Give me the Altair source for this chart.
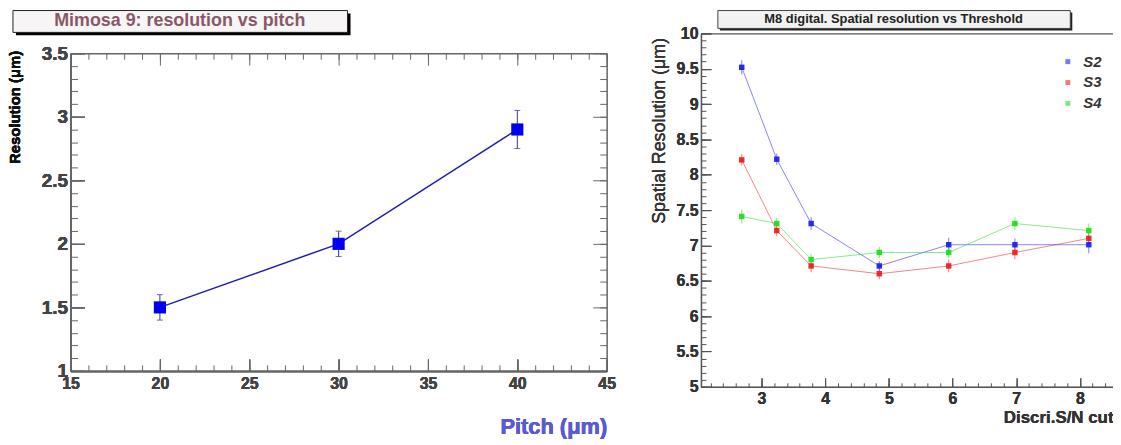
import altair as alt
import pandas as pd

# ---------------- data ----------------
left_title = ["Mimosa 9: resolution vs pitch"]
pitch = [20, 30, 40]
resolution = [1.5, 2.0, 2.9]
res_err = [0.1, 0.1, 0.15]

right_title = ["M8 digital. Spatial resolution vs Threshold"]
sn_cut = [2.69, 3.24, 3.78, 4.85, 5.94, 6.98, 8.14]
series_names = ["S2", "S3", "S4"]
s2 = [9.52, 8.22, 7.31, 6.71, 7.01, 7.01, 7.01]
s3 = [8.21, 7.21, 6.71, 6.60, 6.71, 6.90, 7.10]
s4 = [7.41, 7.31, 6.80, 6.90, 6.90, 7.31, 7.21]
s2_err = [0.10, 0.08, 0.09, 0.07, 0.10, 0.09, 0.12]
s3_err = [0.08, 0.08, 0.09, 0.08, 0.09, 0.10, 0.08]
s4_err = [0.10, 0.08, 0.08, 0.08, 0.08, 0.09, 0.10]
series_colors = ["#2020ee", "#ee2020", "#20dd20"]

# tick values
lx_major = [15, 20, 25, 30, 35, 40, 45]
lx_minor = list(range(15, 46))
ly_major = [1, 1.5, 2, 2.5, 3, 3.5]
ly_minor = [round(1 + 0.1 * i, 1) for i in range(26)]
rx_major = [3, 4, 5, 6, 7, 8]
rx_minor = [round(2.2 + 0.2 * i, 1) for i in range(32)]
ry_major = [5, 5.5, 6, 6.5, 7, 7.5, 8, 8.5, 9, 9.5, 10]
ry_minor = [round(5 + 0.1 * i, 1) for i in range(51)]

FONT = "Liberation Sans"

left_df = pd.DataFrame({
    "pitch": pitch,
    "res": resolution,
    "lo": [r - e for r, e in zip(resolution, res_err)],
    "hi": [r + e for r, e in zip(resolution, res_err)],
})

rows = []
for name, vals, errs in zip(series_names, [s2, s3, s4], [s2_err, s3_err, s4_err]):
    for x, v, e in zip(sn_cut, vals, errs):
        rows.append({"cut": x, "val": v, "lo": v - e, "hi": v + e, "series": name})
right_df = pd.DataFrame(rows)


def tick_axis(orient, values, size, color, **kw):
    d = dict(orient=orient, values=values, tickSize={"expr": str(-size)},
             labels=False, domain=False, title=None, grid=False, ticks=True,
             tickColor=color, tickWidth=1)
    d.update(kw)
    return alt.Axis(**d)


# ---------------- left chart ----------------
# the left panel's group starts 20px above its frame so both panels share one row
LW, LH, LTOP = 540, 340, 20
lxs = alt.Scale(domain=[15, 45], nice=False, zero=False)
lys = alt.Scale(domain=[1, 3.5], range=[LH, LTOP], nice=False, zero=False)
lgray = "#666666"

lx_main = alt.Axis(orient="bottom", values=lx_major, tickSize={"expr": "-12"}, tickColor=lgray,
                   labels=True, labelPadding=17, labelFont=FONT, labelFontSize=16,
                   labelFontWeight="bold", labelColor="#444444", labelFlush=False,
                   labelOverlap=False, format="~g", domain=True, domainColor=lgray,
                   domainWidth=1.5, grid=False,
                   title="Pitch (μm)", titleFont=FONT, titleFontSize=22, titleFontWeight="bold",
                   titleColor="#5a5ad2", titleX=LW, titleY=56, titleAlign="right",
                   titleBaseline="middle", titleAngle=0)
ly_main = alt.Axis(orient="left", values=ly_major, tickSize={"expr": "-14"}, tickColor=lgray,
                   labels=True, labelPadding=17, labelFont=FONT, labelFontSize=19,
                   labelFontWeight="bold", labelColor="#444444", labelFlush=False,
                   labelOverlap=False, format="~g", domain=True, domainColor=lgray,
                   domainWidth=1.5, grid=False,
                   title="Resolution (μm)", titleFont=FONT, titleFontSize=15,
                   titleFontWeight="bold", titleColor="#111111", titleX=-56, titleY=LTOP - 3,
                   titleAlign="right", titleBaseline="middle", titleAngle=270)

lbase = alt.Chart(left_df)

l_err = lbase.mark_rule(color="#33338a", strokeWidth=1).encode(
    x=alt.X("pitch:Q", scale=lxs, axis=lx_main),
    y=alt.Y("lo:Q", scale=lys, axis=ly_main),
    y2="hi:Q")
l_cap_hi = lbase.mark_tick(color="#33338a", orient="horizontal", size=6, thickness=1).encode(
    x=alt.X("pitch:Q", scale=lxs, axis=lx_main), y=alt.Y("hi:Q", scale=lys, axis=ly_main))
l_cap_lo = lbase.mark_tick(color="#33338a", orient="horizontal", size=6, thickness=1).encode(
    x=alt.X("pitch:Q", scale=lxs, axis=lx_main), y=alt.Y("lo:Q", scale=lys, axis=ly_main))
l_line = lbase.mark_line(color="#1c1cb4", strokeWidth=1.5).encode(
    x=alt.X("pitch:Q", scale=lxs, axis=lx_main), y=alt.Y("res:Q", scale=lys, axis=ly_main))
l_pts = lbase.mark_square(color="#0000ee", size=150, opacity=1).encode(
    x=alt.X("pitch:Q", scale=lxs, axis=lx_main), y=alt.Y("res:Q", scale=lys, axis=ly_main))


def l_tick_layer(xaxis, yaxis):
    return lbase.mark_point(opacity=0).encode(
        x=alt.X("pitch:Q", scale=lxs, axis=xaxis),
        y=alt.Y("res:Q", scale=lys, axis=yaxis))


l_ticks = [
    l_tick_layer(tick_axis("bottom", lx_minor, 6, lgray), None),
    l_tick_layer(tick_axis("top", lx_minor, 6, lgray, offset=-LTOP, domain=True,
                           domainColor=lgray, domainWidth=1.5), None),
    l_tick_layer(tick_axis("top", lx_major, 12, lgray, offset=-LTOP), None),
    l_tick_layer(None, tick_axis("left", ly_minor, 7, lgray)),
    l_tick_layer(None, tick_axis("right", ly_minor, 7, lgray, domain=True,
                                 domainColor=lgray, domainWidth=1.5)),
    l_tick_layer(None, tick_axis("right", ly_major, 14, lgray)),
]

ltitle_df = pd.DataFrame({"t": left_title})
l_shadow = alt.Chart(ltitle_df).mark_rect(color="#000000").encode(
    x=alt.value(-55), x2=alt.value(282), y=alt.value(-20), y2=alt.value(2))
l_box = alt.Chart(ltitle_df).mark_rect(fill="#f7f5f6", stroke="#222222", strokeWidth=1).encode(
    x=alt.value(-58), x2=alt.value(279), y=alt.value(-23), y2=alt.value(-1))
l_text = alt.Chart(ltitle_df).mark_text(font=FONT, fontSize=18, fontWeight="bold",
                                        color="#8a5868", align="center", baseline="middle").encode(
    x=alt.value(110), y=alt.value(-12), text="t:N")

left = alt.layer(l_shadow, l_box, l_text, *l_ticks, l_err, l_cap_hi, l_cap_lo, l_line, l_pts).resolve_axis(
    x="independent", y="independent").properties(
    width=LW, height=LH, view=alt.ViewBackground(stroke=None))

# ---------------- right chart ----------------
RW, RH = 415, 356
rxs = alt.Scale(domain=[2.05, 8.52], nice=False, zero=False)
rys = alt.Scale(domain=[5, 10], nice=False, zero=False)
rgray = "#555555"
cscale = alt.Scale(domain=series_names, range=series_colors)
legend = alt.Legend(orient="none", legendX=362, legendY=21, title=None, symbolType="square",
                    symbolSize=25, symbolStrokeWidth=0, labelFont=FONT, labelFontSize=15,
                    labelFontStyle="italic", labelFontWeight="bold", labelColor="#333333",
                    rowPadding=5, padding=0, labelOffset=8)

rx_main = alt.Axis(orient="bottom", values=rx_major, tickSize={"expr": "-9"}, tickColor=rgray,
                   labels=True, labelPadding=13, labelFont=FONT, labelFontSize=16,
                   labelFontWeight="bold", labelColor="#333333", labelFlush=False,
                   labelOverlap=False, format="~g", domain=True, domainColor=rgray,
                   domainWidth=1.2, grid=False,
                   title="Discri.S/N cut", titleFont=FONT, titleFontSize=17, titleFontWeight="bold",
                   titleColor="#333333", titleX=RW, titleY=31, titleAlign="right",
                   titleBaseline="middle", titleAngle=0)
ry_main = alt.Axis(orient="left", values=ry_major, tickSize={"expr": "-10"}, tickColor=rgray,
                   labels=True, labelPadding=13, labelFont=FONT, labelFontSize=16,
                   labelFontWeight="bold", labelColor="#333333", labelFlush=False,
                   labelOverlap=False, format="~g", domain=True, domainColor=rgray,
                   domainWidth=1.2, grid=False,
                   title="Spatial Resolution (μm)", titleFont=FONT, titleFontSize=18,
                   titleFontWeight="normal", titleColor="#333333", titleX=-42, titleY=4,
                   titleAlign="right", titleBaseline="middle", titleAngle=270)

rbase = alt.Chart(right_df)
col = alt.Color("series:N", scale=cscale, legend=legend)

r_err = rbase.mark_rule(strokeWidth=1, opacity=0.6).encode(
    x=alt.X("cut:Q", scale=rxs, axis=rx_main), y=alt.Y("lo:Q", scale=rys, axis=ry_main),
    y2="hi:Q", color=col)
r_line = rbase.mark_line(strokeWidth=1, opacity=0.55).encode(
    x=alt.X("cut:Q", scale=rxs, axis=rx_main), y=alt.Y("val:Q", scale=rys, axis=ry_main),
    color=col)
r_pts = rbase.mark_square(size=30, opacity=0.95).encode(
    x=alt.X("cut:Q", scale=rxs, axis=rx_main), y=alt.Y("val:Q", scale=rys, axis=ry_main),
    color=col)


def r_tick_layer(xaxis, yaxis):
    return rbase.mark_point(opacity=0).encode(
        x=alt.X("cut:Q", scale=rxs, axis=xaxis),
        y=alt.Y("val:Q", scale=rys, axis=yaxis))


r_ticks = [
    r_tick_layer(tick_axis("bottom", rx_minor, 4, rgray), None),
    r_tick_layer(None, tick_axis("left", ry_minor, 5, rgray)),
    r_tick_layer(alt.Axis(orient="top", values=[], ticks=False, labels=False, domain=True,
                          domainColor=rgray, domainWidth=1.2, title=None, grid=False), None),
]

rtitle_df = pd.DataFrame({"t": right_title})
r_shadow = alt.Chart(rtitle_df).mark_rect(color="#222222").encode(
    x=alt.value(19), x2=alt.value(374), y=alt.value(-21), y2=alt.value(-3))
r_box = alt.Chart(rtitle_df).mark_rect(fill="#f2f2f2", stroke="#444444", strokeWidth=1).encode(
    x=alt.value(17), x2=alt.value(372), y=alt.value(-23), y2=alt.value(-5))
r_text = alt.Chart(rtitle_df).mark_text(font=FONT, fontSize=13, fontWeight="bold",
                                        color="#222222", align="center", baseline="middle").encode(
    x=alt.value(194), y=alt.value(-14), text="t:N")

right = alt.layer(r_shadow, r_box, r_text, *r_ticks, r_err, r_line, r_pts).resolve_axis(
    x="independent", y="independent").properties(
    width=RW, height=RH, view=alt.ViewBackground(stroke=None))

chart = alt.hconcat(left, right, spacing=35).resolve_legend(color="independent").properties(
    padding=0, background="white").configure_axis(grid=False)

chart.save("out.html", embed_options={"renderer": "svg", "actions": False})
